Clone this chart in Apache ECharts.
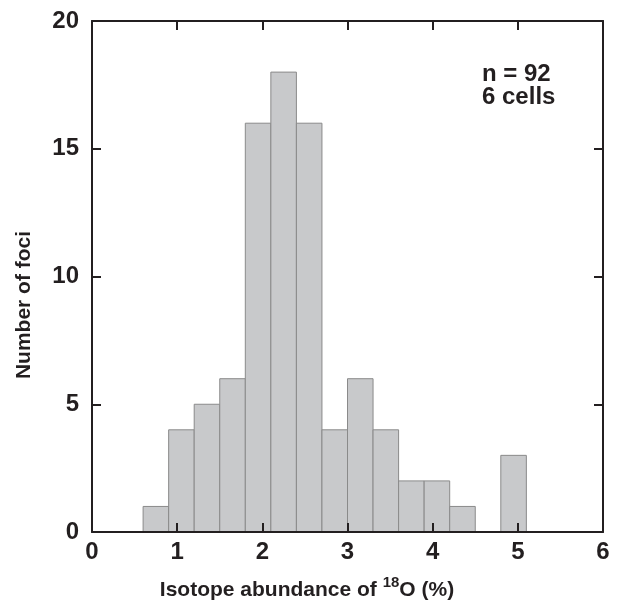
<!DOCTYPE html>
<html><head><meta charset="utf-8">
<script src="https://cdn.jsdelivr.net/npm/echarts@6/dist/echarts.min.js"></script>
<style>html,body{margin:0;padding:0;background:#fff}#c{width:618px;height:603px}</style>
</head><body><div id="c"></div>
<script>
const binStarts = [0.6, 0.9, 1.2, 1.5, 1.8, 2.1, 2.4, 2.7, 3.0, 3.3, 3.6, 3.9, 4.2, 4.8];
const binEnds   = [0.9, 1.2, 1.5, 1.8, 2.1, 2.4, 2.7, 3.0, 3.3, 3.6, 3.9, 4.2, 4.5, 5.1];
const counts    = [1, 4, 5, 6, 16, 18, 16, 4, 6, 4, 2, 2, 1, 3];
const xRange = [0, 6];
const yRange = [0, 20];
const annotationLines = ['n = 92', '6 cells'];

const FONT = '"Liberation Sans", Arial, Helvetica, sans-serif';
const INK = '#231f20';

const chart = echarts.init(document.getElementById('c'), null, {renderer: 'canvas'});

function axisBase(extra) {
  return Object.assign({
    type: 'value',
    z: 10,
    axisLine: {show: true, onZero: false, lineStyle: {color: INK, width: 2}},
    axisTick: {show: true, inside: true, length: 9, lineStyle: {color: INK, width: 2}},
    splitLine: {show: false}
  }, extra);
}

const option = {
  animation: false,
  backgroundColor: '#fff',
  grid: {left: 92, right: 15, top: 21, bottom: 71},
  xAxis: [
    axisBase({min: xRange[0], max: xRange[1], interval: 1, position: 'bottom',
      axisLabel: {show: true, margin: 8, color: INK, fontSize: 24, fontWeight: 'bold', fontFamily: FONT}}),
    axisBase({min: xRange[0], max: xRange[1], interval: 1, position: 'top',
      axisLabel: {show: false}})
  ],
  yAxis: [
    axisBase({min: yRange[0], max: yRange[1], interval: 5, position: 'left',
      axisLabel: {show: true, margin: 13, color: INK, fontSize: 24, fontWeight: 'bold', fontFamily: FONT, padding: [0, 0, 6, 0]}}),
    axisBase({min: yRange[0], max: yRange[1], interval: 5, position: 'right',
      axisLabel: {show: false}})
  ],
  series: [{
    type: 'custom',
    xAxisIndex: 0,
    yAxisIndex: 0,
    z: 2,
    data: binStarts.map((s, i) => [s, binEnds[i], counts[i]]),
    renderItem: function (params, api) {
      const p0 = api.coord([api.value(0), 0]);
      const p1 = api.coord([api.value(1), api.value(2)]);
      return {
        type: 'rect',
        shape: {x: p0[0], y: p1[1], width: p1[0] - p0[0], height: p0[1] - p1[1]},
        style: {fill: '#c8c9cb', stroke: '#8a8a8a', lineWidth: 1}
      };
    }
  }],
  graphic: [
    {
      type: 'text', x: 24, y: 305, rotation: Math.PI / 2,
      style: {text: 'Number of foci', fill: INK, font: 'bold 21px ' + FONT,
        align: 'center', verticalAlign: 'middle'}
    },
    {
      type: 'text', x: 307, y: 588,
      style: {
        text: '{m|Isotope abundance of }{s|18}{m|O (%)}',
        align: 'center', verticalAlign: 'middle',
        rich: {
          m: {fontSize: 21, fontWeight: 'bold', fontFamily: FONT, fill: INK, color: INK, lineHeight: 26, verticalAlign: 'bottom'},
          s: {fontSize: 15, fontWeight: 'bold', fontFamily: FONT, fill: INK, color: INK, lineHeight: 15, verticalAlign: 'top'}
        }
      }
    },
    {
      type: 'text', x: 482, y: 86,
      style: {text: annotationLines.join('\n'), fill: INK, font: 'bold 24px ' + FONT,
        lineHeight: 23, align: 'left', verticalAlign: 'middle'}
    }
  ]
};
chart.setOption(option);
</script></body></html>
